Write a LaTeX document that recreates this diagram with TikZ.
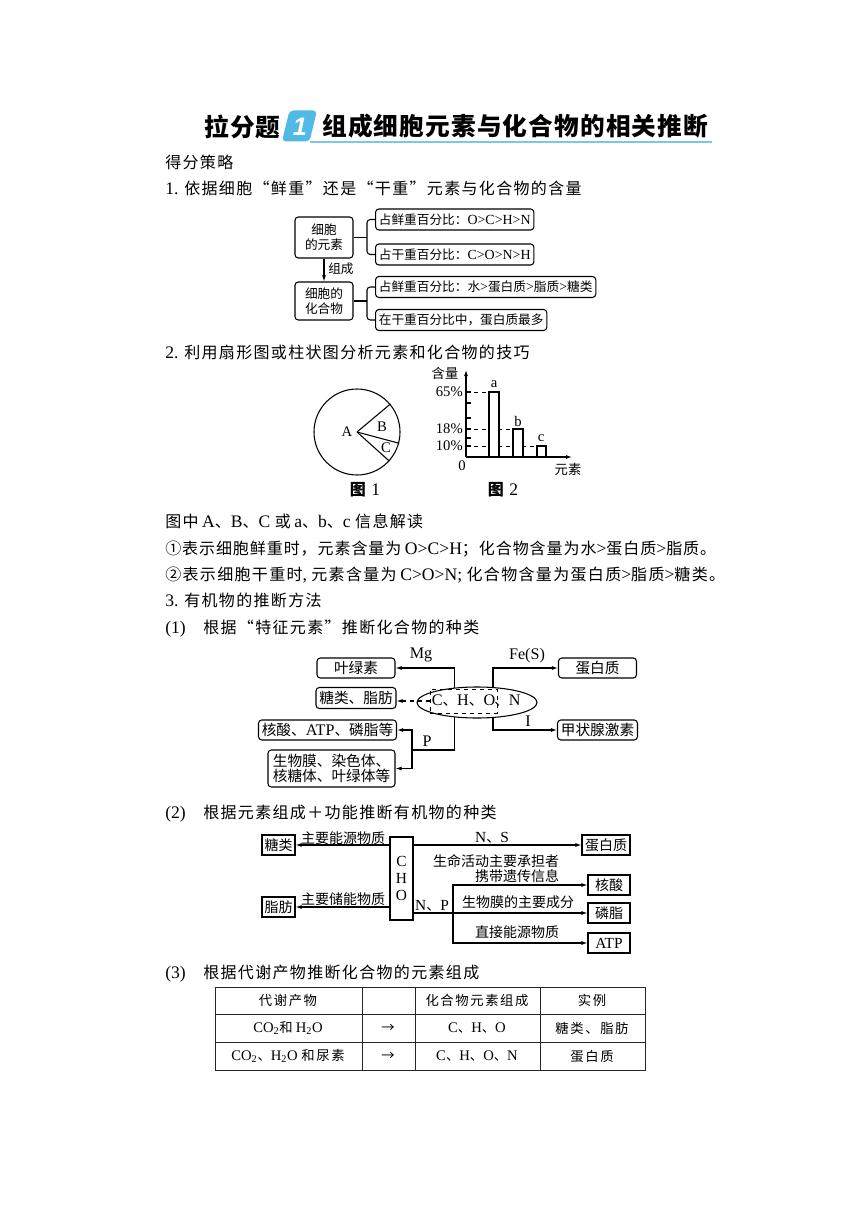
\documentclass[tikz,border=0pt]{standalone}
\usepackage{fontspec}
\setmainfont{Liberation Serif}[Scale=1.1]
\newfontfamily\cjk{Noto Sans CJK SC}
\newfontfamily\sansf{Liberation Sans}
\usetikzlibrary{arrows.meta,shapes.geometric,calc}
\makeatletter
\newXeTeXintercharclass\CJKcls
\def\setcjkrange#1#2{\count@=#1\relax
  \loop
    \XeTeXcharclass\count@=\CJKcls\relax
  \ifnum\count@<#2\relax
    \advance\count@\@ne
  \repeat}
\setcjkrange{"2018}{"201D}
\setcjkrange{"2190}{"2193}
\setcjkrange{"2460}{"2473}
\setcjkrange{"3000}{"303F}
\setcjkrange{"4E00}{"9FFF}
\setcjkrange{"FF00}{"FFEF}
\makeatother
\def\cjkgap{0pt}
\def\latinfam{\rmfamily}
\XeTeXinterchartokenstate=1
\XeTeXinterchartoks 0 \CJKcls = {\cjk}
\XeTeXinterchartoks 4095 \CJKcls = {\cjk}
\XeTeXinterchartoks \CJKcls 0 = {\latinfam}
\XeTeXinterchartoks 4095 0 = {\latinfam}
\XeTeXinterchartoks \CJKcls \CJKcls = {\hskip\cjkgap\relax}
\definecolor{badgec}{RGB}{80,185,230}
\definecolor{ulinec}{RGB}{120,200,235}
\begin{document}
\begin{tikzpicture}[x=0.75pt,y=-0.75pt,
  every node/.style={inner sep=0pt},
  txt/.style={anchor=base west, font=\fontsize{12pt}{14pt}\selectfont\def\cjkgap{1pt}},
  ttl/.style={anchor=west, font=\fontsize{18.5pt}{20pt}\selectfont\bfseries\def\cjkgap{0.85pt}},
  ln/.style={line width=0.8pt},
  arr/.style={ln,-{Latex[length=4.5pt,width=3pt]}},
  rbox/.style={draw, ln, rounded corners=2.5pt, inner xsep=2.5pt, minimum height=15.75pt},
  sbox/.style={draw, ln, minimum height=15pt},
  f1/.style={font=\fontsize{9.5pt}{11.25pt}\selectfont},
  f2/.style={font=\fontsize{10pt}{12pt}\selectfont},
  f3/.style={font=\fontsize{11pt}{11.25pt}\selectfont},
  f4/.style={font=\fontsize{10.5pt}{13.1pt}\selectfont},
  f5/.style={font=\fontsize{10pt}{12pt}\selectfont\def\cjkgap{1.2pt}},
  tline/.style={line width=0.6pt, black!85}
]
\fill[white] (0,0) rectangle (860,1216);
\useasboundingbox (0,0) rectangle (860,1216);

% ---------- title ----------
\fill[badgec, rounded corners=3pt] (282,141.5) -- (289.5,110.5) -- (317,110.5) -- (309.5,141.5) -- cycle;
\node[text=white, font=\fontsize{19pt}{21pt}\selectfont\bfseries\itshape\def\latinfam{\sansf}] (one) at (300,126.5) {1};
\node[ttl] (tA) at (204,126.5) {拉分题};
\node[ttl] (tB) at (322,126.5) {组成细胞元素与化合物的相关推断};
\coordinate (ul0) at (310,142);
\coordinate (ul1) at (712,142);
\draw[ulinec, line width=0.9pt] (ul0) -- (ul1);

% ---------- body text (baselines) ----------
\node[txt] (s0) at (165,169) {得分策略};
\node[txt] (s1) at (165,195) {1. 依据细胞“鲜重”还是“干重”元素与化合物的含量};
\node[txt] (s2) at (165,358) {2. 利用扇形图或柱状图分析元素和化合物的技巧};
\node[txt] (s3) at (165,527) {图中 A、B、C 或 a、b、c 信息解读};
\node[txt, font=\fontsize{12pt}{14pt}\selectfont\def\cjkgap{0.7pt}] (s4) at (165,554) {①表示细胞鲜重时，元素含量为 O>C>H；化合物含量为水>蛋白质>脂质。};
\node[txt] (s5) at (165,580) {②表示细胞干重时, 元素含量为 C>O>N; 化合物含量为蛋白质>脂质>糖类。};
\node[txt] (s6) at (165,606) {3. 有机物的推断方法};
\node[txt] (s7) at (165,633) {(1)};
\node[txt] (s7b) at (203,633) {根据“特征元素”推断化合物的种类};
\node[txt] (s8) at (165,818) {(2)};
\node[txt] (s8b) at (203,818) {根据元素组成＋功能推断有机物的种类};
\node[txt] (s9) at (165,978) {(3)};
\node[txt] (s9b) at (203,978) {根据代谢产物推断化合物的元素组成};

% ---------- diagram 1 ----------
\node[rbox, f1, minimum width=43.5pt, minimum height=30.75pt, align=center] (e1) at (324,237.5) {细胞\\的元素};
\node[rbox, f1, minimum width=43.5pt, minimum height=28.5pt, align=center] (e2) at (324,301) {细胞的\\化合物};
\node[rbox, f1, anchor=west] (b1) at (375,219.5) {占鲜重百分比：O>C>H>N};
\node[rbox, f1, anchor=west] (b2) at (375,254.5) {占干重百分比：C>O>N>H};
\node[rbox, f1, anchor=west] (b3) at (375,287) {占鲜重百分比：水>蛋白质>脂质>糖类};
\node[rbox, f1, anchor=west] (b4) at (375,320) {在干重百分比中，蛋白质最多};
\coordinate (j1) at (367,237.5);
\coordinate (j2) at (367,301);
\draw[ln] (e1.east) -- (j1);
\draw[ln, rounded corners=2.5pt] (b1.west) -| (j1) |- (b2.west);
\draw[ln] (e2.east) -- (j2);
\draw[ln, rounded corners=2.5pt] (b3.west) -| (j2) |- (b4.west);
\draw[arr] (e1.south) -- (e2.north);
\node[f1, anchor=west] (zc) at (328,269) {组成};

% ---------- pie chart ----------
\node[circle, draw, ln, minimum size=64.5pt] (pie) at (357,432) {};
\draw[ln] (pie.center) -- (pie.40);
\draw[ln] (pie.center) -- (pie.-15);
\draw[ln] (pie.center) -- (pie.-42);
\node[f2] (pA) at (347,432) {A};
\node[f2] (pB) at (382,427) {B};
\node[f2] (pC) at (386,448) {C};
\node[font=\fontsize{12pt}{14pt}\selectfont] (cap1) at (365,490) {\textbf{图}\hspace{4pt}1};

% ---------- bar chart ----------
\coordinate (O) at (466,457);
\coordinate (yend) at (466,370);
\coordinate (xend) at (572,457);
\draw[ln, dashed, line width=0.6pt] (466,392) -- (489,392);
\draw[ln, dashed, line width=0.6pt] (466,429) -- (513,429);
\draw[ln, dashed, line width=0.6pt] (466,446) -- (537,446);
\draw[ln, fill=white] (489,457) rectangle (499,392);
\draw[ln, fill=white] (513,457) rectangle (523,429);
\draw[ln, fill=white] (537,457) rectangle (546,446);
\foreach \yy in {392,403,418,429,438,446} \draw[ln] (466,\yy) -- (471,\yy);
\draw[arr] (O) -- (yend);
\draw[arr] (O) -- (xend);
\node[f2, anchor=east] (t65) at (463,392) {65\%};
\node[f2, anchor=east] (t18) at (463,429) {18\%};
\node[f2, anchor=east] (t10) at (463,446) {10\%};
\node[f2] (t0) at (462,466) {0};
\node[f2] (ylab) at (445,373) {含量};
\node[f2] (xlab) at (568,469) {元素};
\node[f2] (la) at (494,384) {a};
\node[f2] (lb) at (518,421) {b};
\node[f2] (lc) at (541,438) {c};
\node[font=\fontsize{12pt}{14pt}\selectfont] (cap2) at (503,490) {\textbf{图}\hspace{4pt}2};

% ---------- diagram (1) ----------
\node[draw, ln, ellipse, minimum width=90pt, minimum height=23.25pt] (ell) at (477,702.5) {};
\node[draw, line width=0.7pt, dashed, f3, minimum width=50.25pt, minimum height=18pt] (chod) at (463.5,701) {C、H、O};
\node[f3, anchor=west] (nn) at (494,701) {、N};
\node[rbox, f3, minimum width=58.5pt, minimum height=15pt] (ylj) at (356,668) {叶绿素};
\node[rbox, f3, minimum width=58.5pt, minimum height=15.75pt] (tlz) at (356,698) {糖类、脂肪};
\node[rbox, f3, minimum width=101.25pt, minimum height=15pt] (hsa) at (327.5,730) {核酸、ATP、磷脂等};
\node[rbox, f3, minimum width=95.25pt, minimum height=27.75pt, align=left] (swm) at (331.5,768.5) {生物膜、染色体、\\核糖体、叶绿体等};
\node[rbox, f3, minimum width=58.5pt, minimum height=15pt] (dbz) at (597.5,668) {蛋白质};
\node[rbox, f3, minimum width=58.5pt, minimum height=15pt] (jzx) at (597.5,730) {甲状腺激素};
\draw[arr] (ell.146) |- (ylj.east);
\node[f3] (lMg) at (421,655) {Mg};
\draw[arr] (ell.44) |- (dbz.west);
\node[f3] (lFe) at (527,656) {Fe(S)};
\draw[arr, dashed] (chod.west) -- (chod.west -| tlz.east);
\draw[arr] (ell.316) |- (jzx.west);
\node[f3] (lI) at (528,721) {I};
\coordinate (pj) at (412,750);
\draw[ln] (ell.214) |- (pj);
\draw[arr] (pj) |- (hsa.east);
\draw[arr] (pj) |- (swm.east);
\node[f3] (lP) at (427,741) {P};

% ---------- diagram (2) ----------
\node[sbox, f4, minimum width=24.75pt] (tl2) at (278.5,845) {糖类};
\node[sbox, f4, minimum width=24.75pt] (zf2) at (278.5,907) {脂肪};
\node[sbox, f4, minimum width=17.25pt, minimum height=62.25pt, align=center] (cho2) at (401.5,878.5) {C\\H\\O};
\node[sbox, f4, minimum width=36pt] (dbz2) at (606,845) {蛋白质};
\node[sbox, f4, minimum width=31.5pt] (hs2) at (609,885) {核酸};
\node[sbox, f4, minimum width=31.5pt] (lz2) at (609,913) {磷脂};
\node[sbox, f4, minimum width=31.5pt] (atp2) at (609,943) {ATP};
\draw[arr] (cho2.west |- tl2.east) -- (tl2.east);
\node[f4] (m1) at (343,838) {主要能源物质};
\draw[arr] (cho2.west |- zf2.east) -- (zf2.east);
\node[f4] (m2) at (343,899) {主要储能物质};
\draw[arr] (cho2.east |- dbz2.west) -- (dbz2.west);
\node[f4] (m3) at (492,838) {N、S};
\node[f4] (m4) at (496,861) {生命活动主要承担者};
\draw[arr] (cho2.east |- lz2.west) -- (lz2.west);
\node[f4] (m5) at (432,906) {N、P};
\node[f4] (m6) at (518,902) {生物膜的主要成分};
\coordinate (vx) at (453,913);
\draw[arr] (vx) |- (hs2.west);
\draw[arr] (vx) |- (atp2.west);
\node[f4] (m7) at (517,876) {携带遗传信息};
\node[f4] (m8) at (517,932) {直接能源物质};

% ---------- table ----------
\draw[tline] (215,987) rectangle (645,1070);
\draw[tline] (215,1014) -- (645,1014);
\draw[tline] (215,1042) -- (645,1042);
\draw[tline] (362,987) -- (362,1070);
\draw[tline] (415,987) -- (415,1070);
\draw[tline] (540,987) -- (540,1070);
\node[f5] (h1) at (288,1000.5) {代谢产物};
\node[f5] (h3) at (477,1000.5) {化合物元素组成};
\node[f5] (h4) at (592,1000.5) {实例};
\node[f5] (r11) at (288,1028) {CO\textsubscript{2}和 H\textsubscript{2}O};
\node[f5] (r12) at (388,1028) {→};
\node[f5] (r13) at (477,1028) {C、H、O};
\node[f5] (r14) at (592,1028) {糖类、脂肪};
\node[f5] (r21) at (288,1056) {CO\textsubscript{2}、H\textsubscript{2}O 和尿素};
\node[f5] (r22) at (388,1056) {→};
\node[f5] (r23) at (477,1056) {C、H、O、N};
\node[f5] (r24) at (592,1056) {蛋白质};
\end{tikzpicture}
\end{document}
